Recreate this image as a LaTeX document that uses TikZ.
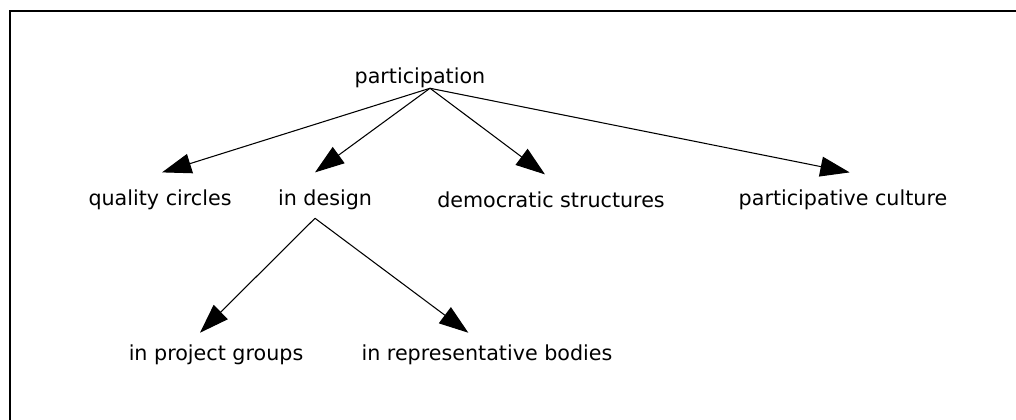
\documentclass[tikz,border=0pt]{standalone}
\usepackage{fontspec}
\setmainfont{DejaVu Sans}
\usetikzlibrary{arrows.meta}

\begin{document}
\begin{tikzpicture}[x=0.75pt, y=-0.75pt, every node/.style={font=\fontsize{15.5}{18}\selectfont, inner sep=0pt}, arr/.style={-{Triangle[length=22pt,width=15pt]}, line width=0.8pt}]
\useasboundingbox (0,0) rectangle (1016,420);
\draw[line width=1.7pt] (10,421) -- (10,11) -- (1017,11);

\node (part) at (420,78) {participation};
\node (qc) at (160,200) {quality circles};
\node (design) at (325,200) {in design};
\node (demo) at (551,200) {democratic structures};
\node (cult) at (843,200) {participative culture};
\node (proj) at (216,355) {in project groups};
\node (repr) at (487,355) {in representative bodies};

\draw[arr] ([xshift=7.5pt]part.south) -- ([xshift=1.5pt, yshift=13pt]qc.north);
\draw[arr] ([xshift=7.5pt]part.south) -- ([xshift=-7.5pt, yshift=13pt]design.north);
\draw[arr] ([xshift=7.5pt]part.south) -- ([xshift=-4.5pt, yshift=13pt]demo.north);
\draw[arr] ([xshift=7.5pt]part.south) -- ([xshift=5pt, yshift=13pt]cult.north);
\draw[arr] ([xshift=-7.5pt, yshift=-6pt]design.south) -- ([xshift=-12pt, yshift=9pt]proj.north);
\draw[arr] ([xshift=-7.5pt, yshift=-6pt]design.south) -- ([xshift=-14pt, yshift=9pt]repr.north);
\end{tikzpicture}
\end{document}
